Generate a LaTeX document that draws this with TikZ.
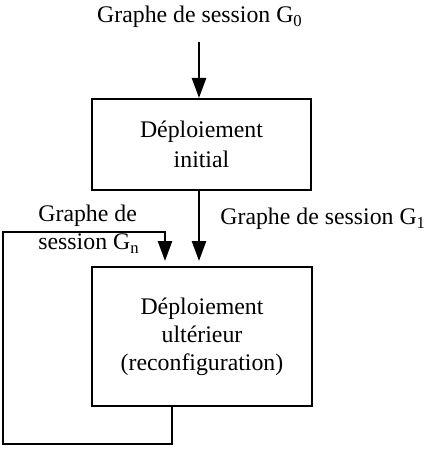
\documentclass[tikz,border=0pt]{standalone}
\usepackage{fontspec}
\setmainfont{Liberation Serif}
\usetikzlibrary{arrows.meta}

\begin{document}
\begin{tikzpicture}[
			x=0.5pt, y=-0.5pt,
			every node/.style={font=\fontsize{11.9pt}{14pt}\selectfont},
			line cap=butt,
			line join=miter,
			stagebox/.style={draw, rectangle, line width=1pt, align=center, inner sep=0pt},
			flowarrow/.style={line width=1.3pt, -{Triangle[length=10pt,width=7pt]}}
			]
			\useasboundingbox (0,0) rectangle (424,454);
			
			\node[stagebox, minimum width=109.5pt, minimum height=45.5pt] (init) at (201.5,144.5) {D\'eploiement\\[1pt]initial};
			\node[stagebox, minimum width=110pt, minimum height=69.5pt] (later) at (202,336.5) {D\'eploiement\\ult\'erieur\\(reconfiguration)};
			
			\node (g0) at (200,17) {Graphe de session G\textsubscript{0}};
			\node[anchor=west, inner sep=0pt] (g1) at (220,219) {Graphe de session G\textsubscript{1}};
			\node[anchor=west, align=left, inner sep=0pt] (gn) at (38,229) {Graphe de\\session G\textsubscript{n}};
			
			\coordinate (start) at (199,42);
			\coordinate (loopout) at (172,406);
			\coordinate (loopbl) at (3,444);
			\coordinate (looptl) at (3,232);
			\coordinate (loopin) at (165,232);
			
			\draw[flowarrow] (start) -- (start |- init.north);
			\draw[flowarrow, shorten >=2.5pt] (start |- init.south) -- (start |- later.north);
			\draw[flowarrow, shorten >=2.5pt] (loopout) |- (loopbl) -- (looptl) -| (loopin |- later.north);
		\end{tikzpicture}
\end{document}
